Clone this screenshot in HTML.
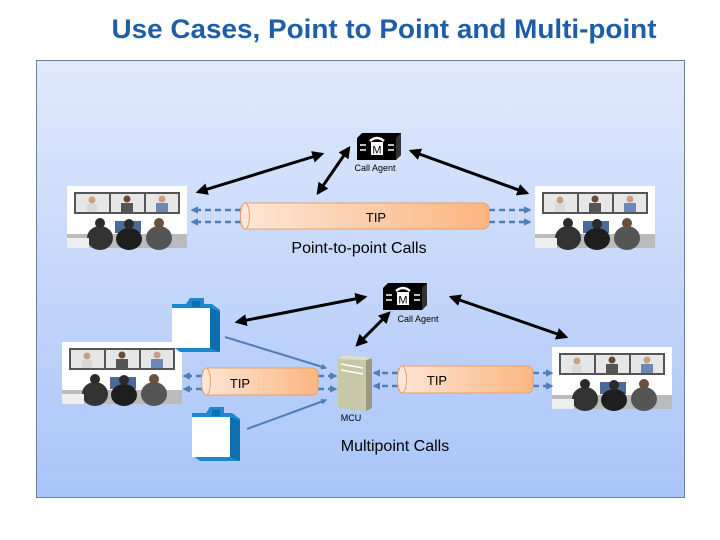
<!DOCTYPE html>
<html><head><meta charset="utf-8"><style>
html,body{margin:0;padding:0;background:#fff;}
svg{display:block;font-family:"Liberation Sans",Arial,sans-serif;}
</style></head><body>
<svg width="720" height="540" viewBox="0 0 720 540" xmlns="http://www.w3.org/2000/svg">
<defs>
<linearGradient id="bg" x1="0" y1="0" x2="0" y2="1">
<stop offset="0" stop-color="#e0e9fc"/><stop offset="1" stop-color="#a9c5f8"/>
</linearGradient>
<linearGradient id="pipe" x1="0" y1="0" x2="1" y2="0">
<stop offset="0" stop-color="#fde6d6"/><stop offset="1" stop-color="#fbb680"/>
</linearGradient>
<marker id="ab" viewBox="0 0 10 10" refX="8" refY="5" markerWidth="4" markerHeight="4" orient="auto-start-reverse">
<path d="M0,0 L10,5 L0,10 z" fill="#000"/></marker>
<marker id="abl" viewBox="0 0 10 10" refX="8" refY="5" markerWidth="3" markerHeight="3" orient="auto-start-reverse">
<path d="M0,0 L10,5 L0,10 z" fill="#4f7fb8"/></marker>
<g id="tp">
<rect x="0" y="0" width="120" height="62" fill="#fff"/>
<rect x="7" y="6" width="106" height="22" fill="#555"/>
<rect x="9" y="8" width="33" height="18" fill="#e6e6e6"/>
<rect x="44" y="8" width="33" height="18" fill="#e6e6e6"/>
<rect x="79" y="8" width="32" height="18" fill="#e6e6e6"/>
<circle cx="25" cy="14" r="3.5" fill="#c9a080"/><rect x="20" y="18" width="10" height="8" fill="#d8d8d8"/>
<circle cx="60" cy="13" r="3.5" fill="#6b4a35"/><rect x="54" y="17" width="12" height="9" fill="#555"/>
<circle cx="95" cy="13" r="3.5" fill="#c9a080"/><rect x="89" y="17" width="12" height="9" fill="#6f86b8"/>
<rect x="0" y="48" width="120" height="14" fill="#bbb"/>
<rect x="48" y="35" width="26" height="12" fill="#4b6a9a"/>
<ellipse cx="33" cy="52" rx="13" ry="12" fill="#333"/><circle cx="33" cy="37" r="5" fill="#2a2a2a"/>
<ellipse cx="62" cy="53" rx="13" ry="11" fill="#1e1e1e"/><circle cx="62" cy="38" r="5" fill="#2a2a2a"/>
<ellipse cx="92" cy="52" rx="13" ry="12" fill="#555"/><circle cx="92" cy="37" r="5" fill="#6b5040"/>
<rect x="0" y="52" width="22" height="10" fill="#eee"/>
</g>
<g id="ca">
<path d="M0,5 L5,0 L44,0 L44,22 L39,27 L0,27 z" fill="#000"/>
<path d="M39,5 L44,0 L44,22 L39,27 z" fill="#333"/>
<rect x="14" y="9" width="12" height="13" fill="#fff"/>
<text x="20" y="20.5" font-size="11" text-anchor="middle" fill="#000">M</text>
<path d="M13,8 Q20,2 27,8" stroke="#fff" stroke-width="2.5" fill="none"/>
<path d="M3,12 L9,12 M3,17 L9,17 M31,12 L37,12 M31,17 L37,17" stroke="#fff" stroke-width="1.5"/>
</g>
<g id="fd">
<path d="M0,6 L14,6 L18,0 L32,0 L32,6 L40,6 L48,12 L48,54 L8,54 L0,48 z" fill="#1a8ad0"/>
<path d="M0,10 L38,10 L38,50 L0,50 z" fill="#fff"/>
<path d="M38,10 L48,14 L48,54 L38,50 z" fill="#0d6fae"/>
<rect x="20" y="3" width="8" height="6" fill="#0d6fae"/>
</g>
</defs>

<text x="384" y="38" font-size="27" fill="#1d5ea7" text-anchor="middle" textLength="545" lengthAdjust="spacingAndGlyphs" font-weight="bold">Use Cases, Point to Point and Multi-point</text>

<rect x="36.5" y="60.5" width="648" height="437" fill="url(#bg)" stroke="#6b7f98" stroke-width="1"/>

<use href="#tp" x="67" y="186"/>
<use href="#tp" x="535" y="186"/>
<use href="#ca" x="357" y="133"/>
<text x="375" y="171" font-size="9" text-anchor="middle">Call Agent</text>

<line x1="198" y1="192" x2="322" y2="154" stroke="#000" stroke-width="3" marker-start="url(#ab)" marker-end="url(#ab)"/>
<line x1="318" y1="193" x2="349" y2="148" stroke="#000" stroke-width="3" marker-start="url(#ab)" marker-end="url(#ab)"/>
<line x1="411" y1="151" x2="527" y2="193" stroke="#000" stroke-width="3" marker-start="url(#ab)" marker-end="url(#ab)"/>

<g stroke="#4f7fb8" stroke-width="2.5" stroke-dasharray="6,4" fill="none">
<line x1="241" y1="210" x2="192" y2="210" marker-end="url(#abl)"/>
<line x1="241" y1="222" x2="192" y2="222" marker-end="url(#abl)"/>
<line x1="489" y1="210" x2="530" y2="210" marker-end="url(#abl)"/>
<line x1="489" y1="222" x2="530" y2="222" marker-end="url(#abl)"/>
</g>
<rect x="241" y="203" width="248" height="26" rx="6" fill="url(#pipe)" stroke="#e8a070" stroke-width="1"/>
<ellipse cx="245" cy="216" rx="4.5" ry="13" fill="#fde6d6" stroke="#e8a070" stroke-width="1"/>
<text x="376" y="222" font-size="13" text-anchor="middle">TIP</text>
<text x="359" y="253" font-size="16" text-anchor="middle">Point-to-point Calls</text>

<use href="#tp" x="62" y="342"/>
<use href="#tp" x="552" y="347"/>
<use href="#ca" x="383" y="283"/>
<text x="418" y="322" font-size="9" text-anchor="middle">Call Agent</text>
<use href="#fd" x="172" y="298"/>
<use href="#fd" x="192" y="407"/>

<line x1="237" y1="322" x2="365" y2="297" stroke="#000" stroke-width="3" marker-start="url(#ab)" marker-end="url(#ab)"/>
<line x1="357" y1="345" x2="389" y2="313" stroke="#000" stroke-width="3" marker-start="url(#ab)" marker-end="url(#ab)"/>
<line x1="451" y1="297" x2="566" y2="337" stroke="#000" stroke-width="3" marker-start="url(#ab)" marker-end="url(#ab)"/>

<line x1="225" y1="337" x2="326" y2="368" stroke="#4f7fb8" stroke-width="2" marker-end="url(#abl)"/>
<line x1="247" y1="429" x2="326" y2="400" stroke="#4f7fb8" stroke-width="2" marker-end="url(#abl)"/>

<g stroke="#4f7fb8" stroke-width="2.5" stroke-dasharray="6,4" fill="none">
<line x1="202" y1="376" x2="184" y2="376" marker-end="url(#abl)"/>
<line x1="202" y1="389" x2="184" y2="389" marker-end="url(#abl)"/>
<line x1="318" y1="376" x2="336" y2="376" marker-end="url(#abl)"/>
<line x1="318" y1="389" x2="336" y2="389" marker-end="url(#abl)"/>
<line x1="398" y1="373" x2="374" y2="373" marker-end="url(#abl)"/>
<line x1="398" y1="386" x2="374" y2="386" marker-end="url(#abl)"/>
<line x1="533" y1="373" x2="552" y2="373" marker-end="url(#abl)"/>
<line x1="533" y1="386" x2="552" y2="386" marker-end="url(#abl)"/>
</g>
<rect x="202" y="368" width="116" height="27" rx="6" fill="url(#pipe)" stroke="#e8a070"/>
<ellipse cx="206" cy="381.5" rx="4.5" ry="13.5" fill="#fde6d6" stroke="#e8a070"/>
<text x="240" y="388" font-size="13" text-anchor="middle">TIP</text>
<rect x="398" y="366" width="135" height="27" rx="6" fill="url(#pipe)" stroke="#e8a070"/>
<ellipse cx="402" cy="379.5" rx="4.5" ry="13.5" fill="#fde6d6" stroke="#e8a070"/>
<text x="437" y="385" font-size="13" text-anchor="middle">TIP</text>

<path d="M338,359 L344,355 L372,358 L372,408 L366,411 L338,408 z" fill="#c8c8a8"/>
<path d="M366,360 L372,358 L372,408 L366,411 z" fill="#9a9a80"/>
<path d="M338,359 L344,355 L372,358 L366,360 z" fill="#e0e0c8"/>
<path d="M341,364 L363,368 M341,370 L363,374" stroke="#fff" stroke-width="1.5"/>
<text x="351" y="421" font-size="9" text-anchor="middle">MCU</text>
<text x="395" y="451" font-size="16" text-anchor="middle">Multipoint Calls</text>
</svg>
</body></html>
